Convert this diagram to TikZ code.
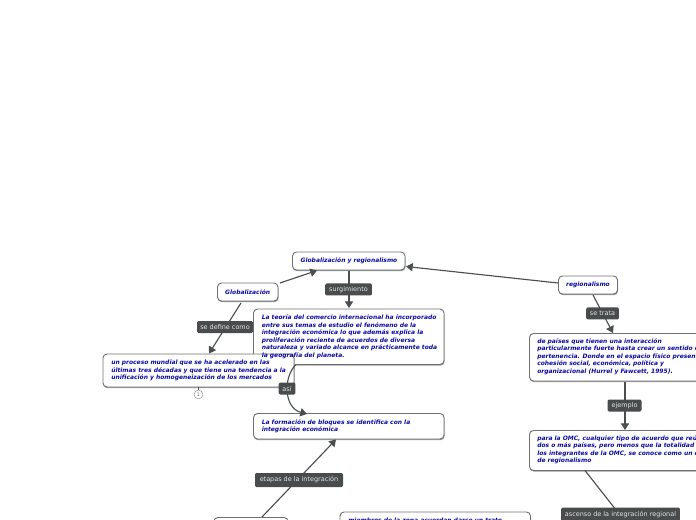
\documentclass[tikz,border=0pt]{standalone}
\usepackage{fontspec}
\setmainfont{DejaVu Sans}
\usetikzlibrary{arrows.meta}
\definecolor{txtblue}{RGB}{10,10,165}
\definecolor{lab}{RGB}{72,76,76}
\definecolor{edge}{RGB}{74,78,78}
\tikzset{
 x=0.75pt,y=-0.75pt,
 box/.style={draw=edge!80,line width=0.7pt,rounded corners=3pt,fill=white,inner sep=0pt},
 boxtxt/.style={anchor=north west,inner sep=0pt,text=txtblue,align=left,font=\fontsize{4.48pt}{5.7pt}\selectfont\bfseries\itshape},
 title/.style={anchor=center,inner sep=0pt,text=txtblue,font=\fontsize{4.48pt}{5.7pt}\selectfont\bfseries\itshape},
 tag/.style={fill=lab,text=white!90!black,rounded corners=1pt,inner sep=0pt,font=\fontsize{4.85pt}{6pt}\selectfont,anchor=center},
 conn/.style={draw=edge,line width=0.85pt},
 arr/.style={conn,-{Triangle[length=5pt,width=6.2pt]}},
}
\newcommand{\bx}[5]{% name, x1,y1,x2,y2
 \fill[black!40,rounded corners=3pt] (#2+0.5,#3+1.2) rectangle (#4+0.5,#5+1.2);
 \draw[box] (#2,#3) rectangle (#4,#5);
 \coordinate (#1) at ({(#2+#4)/2},{(#3+#5)/2});
}
\begin{document}
\begin{tikzpicture}
\useasboundingbox (0,0) rectangle (696,520);
\clip (0,0) rectangle (696,520);
% boxes
\bx{gr}{292.5}{252}{405}{270}
\bx{g}{217.5}{283}{278}{301}
\bx{teo}{253.5}{309}{444}{364.5}
\bx{un}{103}{354}{294}{387}
\bx{form}{253.5}{413.5}{444}{439}
\bx{reg}{558.5}{276}{617.5}{294}
\bx{dep}{529.5}{333.5}{720}{381}
\bx{omc}{529.5}{430.5}{720}{470.5}
\bx{low}{214}{517.5}{288}{540}
\bx{mie}{340}{512}{530.5}{560}
% texts
\node[title] (grt) at (349,260.7) {Globalización y regionalismo};
\node[title] (gt) at (247.7,291.7) {Globalización};
\node[title] (rt) at (588,284.7) {regionalismo};
\node[boxtxt] (unt) at (111,359.7) {un proceso mundial que se ha acelerado en las\\últimas tres décadas y que tiene una tendencia a la\\unificación y homogeneización de los mercados};
\node[boxtxt] (teot) at (261.5,314.5) {La teoría del comercio internacional ha incorporado\\entre sus temas de estudio el fenómeno de la\\integración económica lo que además explica la\\proliferación reciente de acuerdos de diversa\\naturaleza y variado alcance en prácticamente toda\\la geografía del planeta.};
\node[boxtxt] (formt) at (261.5,419) {La formación de bloques se identifica con la\\integración económica};
\node[boxtxt] (dept) at (537,338) {de países que tienen una interacción\\particularmente fuerte hasta crear un sentido de\\pertenencia. Donde en el espacio físico presente\\cohesión social, económica, política y\\organizacional (Hurrel y Fawcett, 1995).};
\node[boxtxt] (omct) at (537,435) {para la OMC, cualquier tipo de acuerdo que reúna a\\dos o más países, pero menos que la totalidad de\\los integrantes de la OMC, se conoce como un caso\\de regionalismo};
\node[boxtxt] (miet) at (348,517.5) {miembros de la zona acuerdan darse un trato};
% connectors
\coordinate (a1) at (280,283);
\coordinate (a2) at (317,270.5);
\draw[arr] (a1) -- (a2);
\coordinate (b1) at (349,271); \coordinate (b2) at (349,308);
\draw[arr] (b1) -- (b2);
\coordinate (c1) at (241,303); \coordinate (c2) at (209,353.5);
\draw[arr] (c1) -- (c2);
\coordinate (d1) at (558,283); \coordinate (d2) at (406,266.5);
\draw[arr] (d1) -- (d2);
\coordinate (e1) at (593,295); \coordinate (e2) at (613,333);
\draw[arr] (e1) -- (e2);
\coordinate (f1) at (625,382); \coordinate (f2) at (625,430);
\draw[arr] (f1) -- (f2);
\coordinate (h1) at (295.5,365); \coordinate (h2) at (307,414);
\draw[arr] (h1) .. controls (283,378) and (284,408) .. (h2);
\coordinate (i1) at (262,517); \coordinate (i2) at (336,439.5);
\draw[arr] (i1) -- (i2);
\coordinate (j1) at (585,470.5); \coordinate (j2) at (620,515);
\draw[conn] (j1) -- (j2);
% numbered mark
\coordinate (k1) at (198.5,387); \coordinate (k2) at (198.5,390);
\draw[conn] (k1) -- (k2);
\node[circle,draw=black!40,fill=white,line width=0.4pt,minimum size=6.6pt,inner sep=0pt,font=\fontsize{3.6pt}{4pt}\selectfont,text=black!60] (num) at (198.5,394.5) {1};
% labels
\node[tag,minimum width=35pt,minimum height=9pt] (l1) at (348.5,289.5) {surgimiento};
\node[tag,minimum width=42pt,minimum height=9pt] (l2) at (225,327) {se define como};
\node[tag,minimum width=12.5pt,minimum height=9pt] (l3) at (287,388.5) {así};
\node[tag,minimum width=66pt,minimum height=10.5pt] (l4) at (299,480) {etapas de la integración};
\node[tag,minimum width=24.5pt,minimum height=9pt] (l5) at (602.5,313.5) {se trata};
\node[tag,minimum width=25.5pt,minimum height=9pt] (l6) at (624.5,405.5) {ejemplo};
\node[tag,minimum width=89pt,minimum height=10.5pt] (l7) at (620.5,514.5) {ascenso de la integración regional};
\end{tikzpicture}
\end{document}
